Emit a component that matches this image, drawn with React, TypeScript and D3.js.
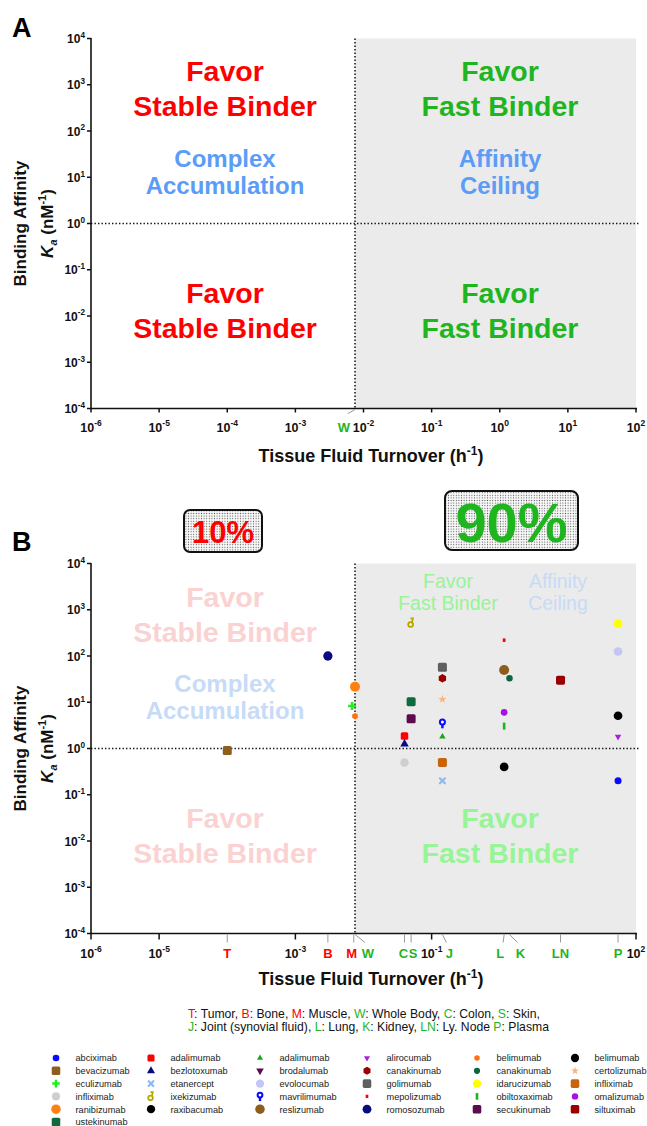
import * as d3 from "d3";

const FONT = "'Liberation Sans', Arial, Helvetica, sans-serif";

// axis decades
const turnoverDecades = [1e-6, 1e-5, 1e-4, 1e-3, 1e-2, 1e-1, 1, 10, 100];
const turnoverDecadesB = [1e-6, 1e-5, 1e-3, 1e-1, 100];
const kaDecades = [1e-4, 1e-3, 1e-2, 1e-1, 1, 10, 100, 1e3, 1e4];

// tissues (fluid turnover, h^-1)
const tissueCodes = ["T", "B", "M", "W", "C", "S", "J", "L", "K", "LN", "P"];
const tissueNames = ["Tumor", "Bone", "Muscle", "Whole Body", "Colon", "Skin", "Joint (synovial fluid)", "Lung", "Kidney", "Ly. Node", "Plasma"];
const tissueTurnover = [1e-4, 0.003, 0.0072, 0.0075, 0.04, 0.05, 0.144, 1.16, 1.39, 7.8, 54.5];
const tissueFast = [false, false, false, true, true, true, true, true, true, true, true];
const wholeBodyTurnover = 0.0075;

// drugs, legend order (column by column)
const drugNames = [
  "abciximab", "bevacizumab", "eculizumab", "infliximab", "ranibizumab", "ustekinumab",
  "adalimumab", "bezlotoxumab", "etanercept", "ixekizumab", "raxibacumab",
  "adalimumab", "brodalumab", "evolocumab", "mavrilimumab", "reslizumab",
  "alirocumab", "canakinumab", "golimumab", "mepolizumab", "romosozumab",
  "belimumab", "canakinumab", "idarucizumab", "obiltoxaximab", "secukinumab",
  "belimumab", "certolizumab", "infliximab", "omalizumab", "siltuximab",
];
const drugTurnover = [
  54.5, 1e-4, 0.0068, 0.04, 0.0075, 0.05,
  0.04, 0.04, 0.144, 0.05, 1.16,
  0.144, 0.05, 54.5, 0.144, 1.16,
  54.5, 0.144, 0.144, 1.16, 0.003,
  0.0075, 1.39, 54.5, 1.16, 0.05,
  54.5, 0.144, 0.144, 1.16, 7.8,
];
const drugKa = [
  0.2, 0.9, 8.3, 0.5, 21.7, 10.3,
  1.86, 1.25, 0.2, 520, 0.4,
  1.8, 4.4, 125, 3.5, 50,
  1.8, 33, 57, 220, 100,
  5.0, 33, 500, 3.05, 4.4,
  5.1, 11.6, 0.5, 6.05, 30,
];
const legendColumnSizes = [6, 5, 5, 5, 5, 5];

const percentText = ["10%", "90%"];

// marker styles
const markerKind = [
  "circle", "square", "plus", "circle", "circle", "square",
  "square", "triUp", "cross", "ixe", "circle",
  "triUp", "triDown", "circle", "pin", "circle",
  "triDown", "hex", "square", "dot", "circle",
  "hex", "circle", "circle", "bar", "square",
  "circle", "star", "square", "circle", "square",
];
const markerColor = [
  "#0a0aff", "#8f5f1f", "#22ee22", "#cfcfcf", "#ff8010", "#0f6b3e",
  "#ff0000", "#0a0a80", "#8cb8f8", "#b5a500", "#000000",
  "#18a818", "#5e0a4e", "#c4c4f5", "#0a0aff", "#8e5d1d",
  "#a820e0", "#9b0000", "#5f5f5f", "#ff0000", "#0a0a80",
  "#ff7010", "#0b6540", "#ffff00", "#18b818", "#5b0b4e",
  "#000000", "#f5b482", "#c8640a", "#a810e0", "#9b0000",
];
const markerSize = [
  7, 9, 8, 8.5, 10, 9,
  7.5, 8.5, 7, 9, 8.7,
  6.5, 8, 8.7, 9, 10,
  6.5, 8.5, 9, 3.5, 9.3,
  6.5, 6.5, 8.7, 7, 9,
  8.7, 7, 9, 6.7, 9,
];

const RED = "#ff0000";
const GREEN = "#1fb51f";
const BLUE = "#5a9cf6";
const RED_FADED = "#fad2d2";
const GREEN_FADED = "#96f596";
const BLUE_FADED = "#c7dbf7";

const WIDTH = 647;
const HEIGHT = 1126;
const X0 = 91;
const X1 = 636;
const PANEL_H = 370;
const panelTops = [38.5, 563.5];

const x = d3.scaleLog().domain([1e-6, 1e2]).range([X0, X1]);
const yFor = (top: number) => d3.scaleLog().domain([1e-4, 1e4]).range([top + PANEL_H, top]);

function hexPath(cx: number, cy: number, r: number) {
  const pts = d3.range(6).map((k) => {
    const a = (-90 + 60 * k) * Math.PI / 180;
    return [cx + r * Math.cos(a), cy + r * Math.sin(a)];
  });
  return "M" + pts.map((p) => p.join(",")).join("L") + "Z";
}

function Marker({ kind, color, size, cx, cy }: any) {
  const s = size;
  switch (kind) {
    case "circle":
      return <circle cx={cx} cy={cy} r={s / 2} fill={color} />;
    case "square":
      return <rect x={cx - s / 2} y={cy - s / 2} width={s} height={s} rx={1.6} fill={color} />;
    case "triUp":
    case "triDown": {
      const p = d3.symbol(d3.symbolTriangle, (Math.sqrt(3) / 4) * s * s)();
      return <path d={p || ""} fill={color} transform={`translate(${cx},${cy}) rotate(${kind === "triDown" ? 180 : 0})`} />;
    }
    case "plus": {
      const p = d3.symbol(d3.symbolCross, (5 * s * s) / 9)();
      return <path d={p || ""} fill={color} transform={`translate(${cx},${cy})`} />;
    }
    case "star": {
      const p = d3.symbol(d3.symbolStar, s * s * 0.45)();
      return <path d={p || ""} fill={color} transform={`translate(${cx},${cy})`} />;
    }
    case "hex":
      return <path d={hexPath(cx, cy, s / 2)} fill={color} />;
    case "cross":
      return (
        <g stroke={color} strokeWidth={2.2} strokeLinecap="round">
          <line x1={cx - s / 2 + 1} y1={cy - s / 2 + 1} x2={cx + s / 2 - 1} y2={cy + s / 2 - 1} />
          <line x1={cx - s / 2 + 1} y1={cy + s / 2 - 1} x2={cx + s / 2 - 1} y2={cy - s / 2 + 1} />
        </g>
      );
    case "bar":
      return <rect x={cx - 1.3} y={cy - s / 2} width={2.6} height={s} fill={color} />;
    case "dot":
      return <rect x={cx - s * 0.4} y={cy - s / 2} width={s * 0.8} height={s} fill={color} />;
    case "ixe":
      return (
        <g stroke={color} fill="none" strokeWidth={1.7}>
          <circle cx={cx - 0.5} cy={cy + 1.6} r={s * 0.27} />
          <path d={`M${cx + 0.8},${cy - 0.3} L${cx + 1.8},${cy - s / 2} L${cx - 0.6},${cy - s / 2}`} />
        </g>
      );
    case "pin":
      return (
        <g stroke={color} fill="none" strokeWidth={2}>
          <circle cx={cx} cy={cy - s * 0.15} r={s * 0.28} fill="#fff" />
          <line x1={cx} y1={cy + s * 0.12} x2={cx} y2={cy + s * 0.55} strokeWidth={2.4} />
        </g>
      );
    default:
      return null;
  }
}

function Pow({ x: px, y: py, exp, anchor, size = 12.5, color = "#111" }: any) {
  return (
    <text x={px} y={py} textAnchor={anchor} fontFamily={FONT} fontWeight="bold" fontSize={size} fill={color}>
      10
      <tspan fontSize={size * 0.68} dy={-size * 0.42}>{exp}</tspan>
    </text>
  );
}

function YAxisTitle({ cy }: { cy: number }) {
  return (
    <g fontFamily={FONT} fontWeight="bold" fill="#111">
      <text transform={`translate(26,${cy}) rotate(-90)`} textAnchor="middle" fontSize={17}>
        Binding Affinity
      </text>
      <text transform={`translate(53,${cy}) rotate(-90)`} textAnchor="middle" fontSize={17}>
        <tspan fontStyle="italic">K</tspan>
        <tspan fontStyle="italic" fontSize={11} dy={4}>a</tspan>
        <tspan dy={-4}> (nM</tspan>
        <tspan fontSize={11} dy={-7}>-1</tspan>
        <tspan dy={7}>)</tspan>
      </text>
    </g>
  );
}

function XAxisTitle({ y }: { y: number }) {
  return (
    <text x={371} y={y} textAnchor="middle" fontFamily={FONT} fontWeight="bold" fontSize={18} fill="#111">
      Tissue Fluid Turnover (h
      <tspan fontSize={12} dy={-7}>-1</tspan>
      <tspan dy={7}>)</tspan>
    </text>
  );
}

function TwoLine({ cx, y, lines, size, color, weight = "bold", gap }: any) {
  return (
    <g fontFamily={FONT} fontWeight={weight} fontSize={size} fill={color} textAnchor="middle">
      {lines.map((t: string, i: number) => (
        <text key={i} x={cx} y={y + i * gap}>{t}</text>
      ))}
    </g>
  );
}

function Frame({ top }: { top: number }) {
  const y = yFor(top);
  const bottom = top + PANEL_H;
  const xv = x(wholeBodyTurnover);
  return (
    <g>
      <rect x={xv} y={top} width={X1 - xv} height={PANEL_H} fill="#ebebeb" />
      <line x1={X0} x2={X1 + 3} y1={y(1)} y2={y(1)} stroke="#111" strokeWidth={1.5} strokeDasharray="1.4 2.1" />
      <line x1={xv} x2={xv} y1={top} y2={bottom} stroke="#111" strokeWidth={1.5} strokeDasharray="1.4 2.1" />
      {kaDecades.map((v) => (
        <g key={v}>
          <line x1={X0 - 4} x2={X0} y1={y(v)} y2={y(v)} stroke="#111" strokeWidth={1.5} />
          <Pow x={X0 - 6} y={y(v) + 4.5} exp={Math.round(Math.log10(v))} anchor="end" size={12} />
        </g>
      ))}
      <line x1={X0} x2={X0} y1={top - 0.5} y2={bottom + 0.75} stroke="#111" strokeWidth={1.6} />
      <line x1={X0} x2={X1 + 1} y1={bottom} y2={bottom} stroke="#111" strokeWidth={1.6} />
    </g>
  );
}

function PanelA() {
  const top = panelTops[0];
  const bottom = top + PANEL_H;
  const wi = tissueCodes.indexOf("W");
  const wx = x(tissueTurnover[wi]);
  return (
    <g>
      <Frame top={top} />
      {turnoverDecades.map((v) => (
        <g key={v}>
          <line x1={x(v)} x2={x(v)} y1={bottom} y2={bottom + 4} stroke="#111" strokeWidth={1.5} />
          <Pow x={x(v)} y={bottom + 23} exp={Math.round(Math.log10(v))} anchor="middle" />
        </g>
      ))}
      <line x1={wx} y1={bottom + 1} x2={wx - 7} y2={bottom + 5} stroke="#999" strokeWidth={1} />
      <text x={wx - 11} y={bottom + 23} textAnchor="middle" fontFamily={FONT} fontWeight="bold" fontSize={13} fill={GREEN}>W</text>
      <XAxisTitle y={bottom + 53} />
      <YAxisTitle cy={top + PANEL_H / 2} />
      <TwoLine cx={225} y={top + 42} lines={["Favor", "Stable Binder"]} size={28.5} color={RED} gap={35} />
      <TwoLine cx={500} y={top + 42} lines={["Favor", "Fast Binder"]} size={28.5} color={GREEN} gap={35} />
      <TwoLine cx={225} y={top + 128} lines={["Complex", "Accumulation"]} size={24} color={BLUE} gap={27} />
      <TwoLine cx={500} y={top + 128} lines={["Affinity", "Ceiling"]} size={24} color={BLUE} gap={27} />
      <TwoLine cx={225} y={top + 264} lines={["Favor", "Stable Binder"]} size={28.5} color={RED} gap={35} />
      <TwoLine cx={500} y={top + 264} lines={["Favor", "Fast Binder"]} size={28.5} color={GREEN} gap={35} />
      <text x={12} y={37} fontFamily={FONT} fontWeight="bold" fontSize={27} fill="#000">A</text>
    </g>
  );
}

// label offsets and leaders for tissue letters on panel B axis
const tissueLabelDx = [0, 0, -2, 13, -1, 2, 7, -4, 11, 0, 0];
const tissueLeader = [false, false, false, true, false, false, true, true, true, false, false];

function PanelB() {
  const top = panelTops[1];
  const bottom = top + PANEL_H;
  const y = yFor(top);
  return (
    <g>
      <Frame top={top} />
      <TwoLine cx={225} y={top + 43} lines={["Favor", "Stable Binder"]} size={28.5} color={RED_FADED} gap={35} />
      <TwoLine cx={225} y={top + 128.5} lines={["Complex", "Accumulation"]} size={24} color={BLUE_FADED} gap={27} />
      <TwoLine cx={225} y={top + 264.5} lines={["Favor", "Stable Binder"]} size={28.5} color={RED_FADED} gap={35} />
      <TwoLine cx={500} y={top + 264.5} lines={["Favor", "Fast Binder"]} size={28.5} color={GREEN_FADED} gap={35} />
      <TwoLine cx={448} y={top + 24.5} lines={["Favor", "Fast Binder"]} size={19.5} color={GREEN_FADED} weight="normal" gap={22} />
      <TwoLine cx={558} y={top + 24.5} lines={["Affinity", "Ceiling"]} size={19.5} color={BLUE_FADED} weight="normal" gap={22} />
      {drugNames.map((n, i) => (
        <Marker key={n + i} kind={markerKind[i]} color={markerColor[i]} size={markerSize[i]} cx={x(drugTurnover[i])} cy={y(drugKa[i])} />
      ))}
      {turnoverDecadesB.map((v) => (
        <g key={v}>
          <line x1={x(v)} x2={x(v)} y1={bottom} y2={bottom + 6} stroke="#111" strokeWidth={1.5} />
          <Pow x={x(v)} y={bottom + 24} exp={Math.round(Math.log10(v))} anchor="middle" />
        </g>
      ))}
      {tissueCodes.map((c, i) => {
        const tx = x(tissueTurnover[i]);
        const lx = tx + tissueLabelDx[i];
        return (
          <g key={c}>
            {tissueLeader[i] ? (
              <line x1={tx} y1={bottom + 1} x2={lx + (lx > tx ? -3 : 3)} y2={bottom + 9} stroke="#999" strokeWidth={1} />
            ) : (
              <line x1={tx} y1={bottom + 1} x2={tx} y2={bottom + 9} stroke="#999" strokeWidth={1} />
            )}
            <text x={lx} y={bottom + 24} textAnchor="middle" fontFamily={FONT} fontWeight="bold" fontSize={13} fill={tissueFast[i] ? GREEN : RED}>
              {c}
            </text>
          </g>
        );
      })}
      <XAxisTitle y={bottom + 51.5} />
      <YAxisTitle cy={top + PANEL_H / 2} />
      <text x={12} y={551} fontFamily={FONT} fontWeight="bold" fontSize={27} fill="#000">B</text>
      {/* share boxes */}
      <rect x={184} y={510} width={78} height={42} rx={6} fill="url(#stipple)" stroke="#111" strokeWidth={2} />
      <text x={223} y={543} textAnchor="middle" fontFamily={FONT} fontWeight="bold" fontSize={31} fill={RED}>{percentText[0]}</text>
      <rect x={445} y={491} width={133} height={59} rx={7} fill="url(#stipple)" stroke="#111" strokeWidth={2} />
      <text x={511.5} y={541.5} textAnchor="middle" fontFamily={FONT} fontWeight="bold" fontSize={56} fill={GREEN}>{percentText[1]}</text>
    </g>
  );
}

const legendColX = [56, 151, 260, 367, 477, 575];

function Legend() {
  let idx = 0;
  const items: any[] = [];
  legendColumnSizes.forEach((n, c) => {
    for (let r = 0; r < n; r++) {
      const i = idx++;
      const cy = 1058 + r * 12.8;
      items.push(
        <g key={i}>
          <Marker kind={markerKind[i]} color={markerColor[i]} size={markerSize[i] * 0.95} cx={legendColX[c]} cy={cy} />
          <text x={legendColX[c] + 19.5} y={cy + 3.3} fontFamily={FONT} fontSize={9.2} fill="#222">{drugNames[i]}</text>
        </g>
      );
    }
  });
  const line1 = [0, 1, 2, 3, 4, 5];
  const line2 = [6, 7, 8, 9, 10];
  const seg = (i: number, sep: string) => (
    <tspan key={i}>
      <tspan fill={tissueFast[i] ? GREEN : RED}>{tissueCodes[i]}</tspan>
      {`: ${tissueNames[i]}${sep}`}
    </tspan>
  );
  return (
    <g>
      <text x={188} y={1018} fontFamily={FONT} fontSize={12.2} fill="#111">
        {line1.map((i) => seg(i, i === 5 ? "," : ", "))}
      </text>
      <text x={188} y={1031} fontFamily={FONT} fontSize={12.2} fill="#111">
        {line2.map((i) => seg(i, i === 10 ? "" : i === 9 ? " " : ", "))}
      </text>
      {items}
    </g>
  );
}

export default function App() {
  return (
    <svg
      width={WIDTH}
      height={HEIGHT}
      viewBox={`0 0 ${WIDTH} ${HEIGHT}`}
      style={{ position: "absolute", left: 0, top: 0, display: "block", background: "#fff" }}
    >
      <defs>
        <pattern id="stipple" width={2.6} height={2.6} patternUnits="userSpaceOnUse">
          <rect width={2.6} height={2.6} fill="#fafafa" />
          <circle cx={1.3} cy={1.3} r={0.6} fill="#555" />
        </pattern>
      </defs>
      <rect width={WIDTH} height={HEIGHT} fill="#fff" />
      <PanelA />
      <PanelB />
      <Legend />
    </svg>
  );
}
